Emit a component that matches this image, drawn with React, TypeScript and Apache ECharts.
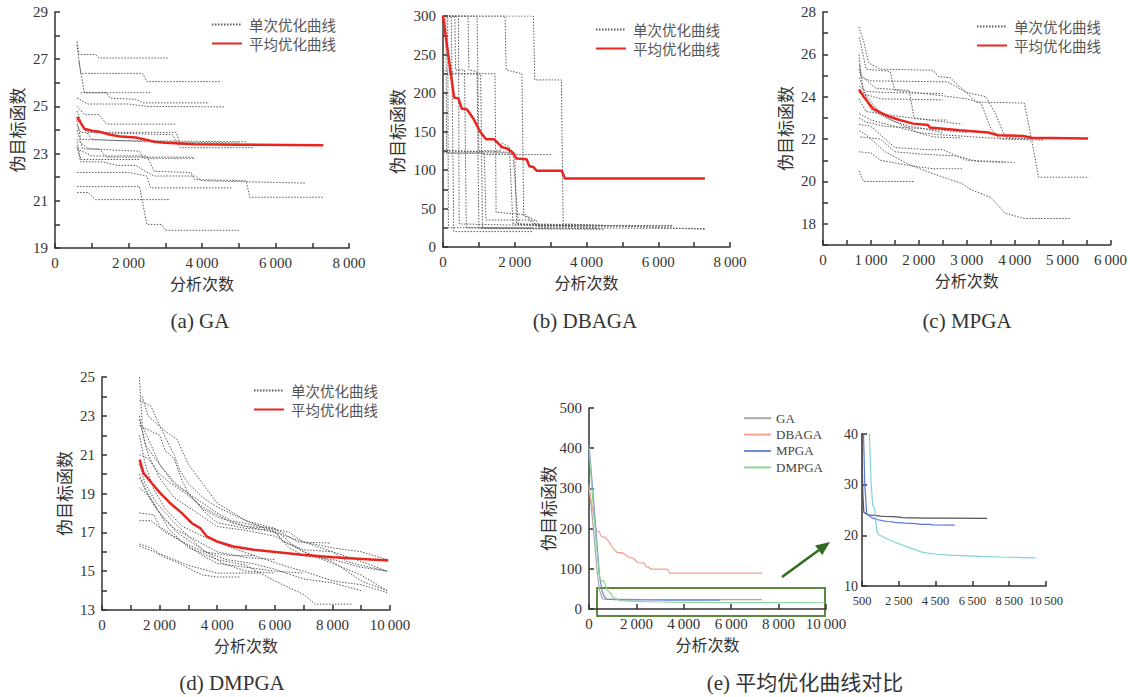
import React, { useEffect, useRef } from "react";
import * as echarts from "echarts";

// ---------------- data ----------------
const gaRuns: number[][][] = [
  [[600,27.75],[650,27.2],[1100,27.2],[1200,27.05],[3070,27.05]],
  [[600,27.6],[700,26.4],[2380,26.4],[2500,26.05],[4500,26.05]],
  [[650,26.9],[800,25.58],[2620,25.58]],
  [[700,25.58],[1400,25.58],[1500,25.35],[2200,25.3],[2400,25.15],[4200,25.15]],
  [[600,25.35],[900,25.1],[2000,25.1],[2500,25.0],[4600,24.98]],
  [[600,25.0],[800,24.65],[1200,24.65],[1400,24.25],[3300,24.25]],
  [[600,24.8],[800,24.0],[1200,23.9],[3300,23.9],[3400,23.4],[5400,23.4]],
  [[600,24.2],[700,23.9],[3200,23.8],[3400,23.25],[5400,23.25]],
  [[600,24.4],[700,23.6],[1800,23.55],[5200,23.5]],
  [[600,24.0],[750,23.2],[1200,23.2],[1400,22.85],[3800,22.85]],
  [[600,23.5],[700,22.75],[2300,22.75]],
  [[600,23.3],[700,22.65],[1300,22.65],[1700,22.5],[2200,22.5],[2400,22.3],[2700,22.05],[3800,22.05],[4000,21.85],[6800,21.75]],
  [[600,23.2],[1000,22.9],[2500,22.9],[2700,22.25],[3700,22.2],[3800,21.9],[5200,21.85],[5300,21.15],[7300,21.15]],
  [[600,22.2],[2000,22.2],[2500,22.05],[2600,21.55],[4800,21.55]],
  [[600,21.6],[2300,21.6],[2500,20.0],[2900,20.0],[3000,19.75],[5000,19.75]],
  [[600,21.35],[900,21.35],[1100,21.05],[3100,21.05]],
  [[600,24.5],[1000,23.6],[2500,23.5],[5000,23.45]],
  [[600,23.6],[900,23.2],[2300,23.1],[2400,22.8],[3800,22.8]],
];
const gaAvg: number[][] = [[600,24.55],[700,24.3],[800,24.05],[1000,23.97],[1200,23.93],[1500,23.8],[1800,23.72],[2200,23.68],[2500,23.58],[2700,23.5],[3000,23.46],[3400,23.43],[3800,23.4],[5000,23.38],[7300,23.35]];

const dbRuns: number[][][] = [
  [[0,300],[130,300],[150,25],[4400,24]],
  [[0,300],[230,300],[250,225],[1050,225],[1100,24],[4500,23]],
  [[0,300],[430,300],[450,30],[2400,28],[6400,28]],
  [[0,300],[700,300],[720,230],[950,228],[1000,25],[3000,24]],
  [[0,300],[1730,300],[1760,230],[2200,225],[2250,40],[2450,38],[2600,27],[6400,27]],
  [[0,300],[2520,300],[2560,217],[3300,217],[3350,30],[7300,23]],
  [[0,225],[1450,225],[1480,45],[2300,42],[2500,30],[4500,28]],
  [[0,125],[1050,124],[1100,120],[3050,120]],
  [[0,122],[1150,122],[1200,35],[2600,35],[2700,25],[7300,24]],
  [[0,125],[2000,123],[2050,30],[3600,28]],
  [[0,300],[80,300],[100,122],[1950,122],[2100,30],[4300,25]],
  [[0,230],[250,228],[300,20],[2500,20]],
  [[0,300],[950,300],[1000,125],[1600,125],[1650,135],[1850,130],[1950,30],[3000,27]],
  [[0,300],[330,300],[350,230],[600,230],[650,25],[2500,25]],
];
const dbAvg: number[][] = [[0,300],[310,194],[430,193],[520,180],[670,178.6],[845,167],[1030,150],[1200,140],[1420,140],[1635,130],[1770,128],[1914,124],[2054,115],[2333,114],[2405,105],[2517,104],[2611,99],[3308,99],[3400,89],[7300,89]];

const mpRuns: number[][][] = [
  [[750,27.3],[850,26.6],[950,25.6],[1200,25.3],[2300,25.25],[2400,24.95],[2650,24.9],[3200,23.75],[4200,23.7],[4300,22.6],[4350,22.0],[4500,20.2],[5550,20.2]],
  [[760,22.4],[900,22.2],[1300,21.4],[1800,20.8],[2250,20.4],[2900,19.9],[3100,19.6],[3500,19.25],[3800,18.5],[4200,18.25],[5150,18.25]],
  [[750,20.5],[850,20.0],[1900,20.0]],
  [[750,21.4],[1000,21.35],[1200,21.0],[1800,20.75],[2300,20.6],[2900,20.6]],
  [[750,22.7],[1000,22.6],[1500,21.6],[2200,21.5],[2500,21.5],[3000,21.0],[4000,20.9]],
  [[760,23.2],[1000,22.9],[1500,22.6],[2000,22.3],[2500,22.2],[3500,22.05],[4600,22.0]],
  [[750,24.2],[1200,23.9],[2500,23.85]],
  [[760,24.5],[900,24.25],[1300,24.2],[2500,24.15]],
  [[750,25.3],[800,24.9],[1000,24.75],[2600,24.7],[3000,24.2],[3400,24.0],[3600,23.2],[3800,22.1],[4300,22.0]],
  [[750,26.0],[800,25.0],[1100,24.4],[1800,24.3],[1900,23.0],[2900,22.7]],
  [[750,23.9],[900,23.3],[1500,23.1],[2200,22.9],[2600,22.9]],
  [[750,23.0],[900,22.8],[1300,22.6],[2000,22.5],[2600,22.4],[3000,22.3]],
  [[760,26.8],[900,25.3],[1400,25.2],[1500,24.3],[2300,24.1],[3000,23.9],[3300,23.7],[3500,22.5],[3700,22.0],[4600,21.95]],
  [[760,25.5],[850,24.2],[1200,23.2],[1600,22.7],[2000,22.3],[2300,22.1],[2900,22.05]],
  [[760,24.9],[900,24.0],[1000,23.4],[1400,22.9],[1800,22.6],[2100,22.5],[2500,22.3]],
  [[780,22.1],[1200,22.0],[1500,21.4],[2000,21.3],[2800,21.2],[3200,20.95],[3800,20.9]],
];
const mpAvg: number[][] = [[752,24.34],[850,24.0],[950,23.7],[1045,23.44],[1200,23.25],[1358,23.08],[1600,22.9],[1880,22.73],[2193,22.66],[2228,22.55],[2854,22.42],[3446,22.31],[3655,22.18],[4177,22.15],[4350,22.06],[5534,22.03]];

const dmRuns: number[][][] = [
  [[1300,25.0],[1400,22.5],[1700,21.5],[2000,20.5],[2500,19.5],[3000,19.0],[3500,18.2],[4000,17.8],[5000,17.3],[6000,17.0],[6500,16.2],[7000,15.8],[8000,15.6],[9000,15.2],[9900,15.0]],
  [[1300,23.8],[1700,23.5],[2000,22.5],[2500,21.0],[2700,20.2],[3000,19.5],[3500,18.8],[4000,18.3],[5000,17.6],[6000,17.2],[6800,16.5],[7900,16.45]],
  [[1300,22.8],[1600,21.0],[2000,19.8],[2500,18.8],[3200,18.1],[4000,17.3],[5000,17.1],[6000,16.8],[7000,16.0],[8000,15.5],[9000,14.5],[9900,14.0]],
  [[1300,22.0],[1500,20.5],[1800,19.2],[2200,18.2],[2800,17.3],[3500,16.8],[4500,16.2],[5500,15.7],[6500,15.2],[7000,15.0],[8000,14.5],[9000,14.3],[9900,13.9]],
  [[1300,20.5],[1500,19.5],[1900,18.5],[2500,17.5],[3000,16.8],[3500,16.1],[4200,15.4],[5000,15.0],[6000,14.9]],
  [[1300,19.8],[1600,19.0],[2000,18.0],[2300,17.2],[3000,16.2],[4000,15.6],[5000,15.3],[6000,14.5],[7000,13.8],[7400,13.3],[8700,13.3]],
  [[1300,16.4],[1700,16.2],[2000,15.9],[2500,15.6],[3000,15.3],[3500,15.1],[4000,14.9],[5500,14.9]],
  [[1300,16.3],[1800,16.0],[2200,15.7],[2700,15.4],[3200,15.0],[3500,14.8],[4000,14.7],[4800,14.7]],
  [[1300,18.0],[1800,17.9],[2000,17.3],[2500,16.8],[3000,16.3],[3500,15.8],[4000,15.4],[5000,15.2],[6000,15.0],[7000,14.9]],
  [[1300,17.6],[1700,17.6],[2200,17.0],[2800,16.5],[3500,16.0],[4500,15.8],[5300,15.8]],
  [[1300,23.0],[1500,21.5],[2000,20.5],[2500,19.6],[3000,19.0],[3600,18.0],[4000,17.5],[5000,17.2],[6000,17.1],[6300,16.5],[7000,16.1],[8000,16.0],[8500,15.5],[9000,15.3],[9900,15.0]],
  [[1300,21.0],[1600,20.8],[2000,20.0],[2400,19.5],[3000,18.9],[3500,18.3],[4000,17.9],[4500,17.5],[5000,17.3],[6000,17.2],[6500,16.5],[7000,16.0],[8000,15.4],[9000,14.8],[9900,14.0]],
  [[1300,19.3],[1600,18.9],[2000,18.0],[2500,17.2],[3000,16.8],[3500,16.4],[4000,16.0],[5000,15.7],[6000,15.6]],
  [[1300,22.5],[2000,22.0],[2200,21.2],[2500,20.8],[2800,19.6],[3000,19.0],[3500,18.5],[4000,18.0],[4500,17.6],[5500,17.3],[6500,17.0],[7000,16.5],[8000,16.2],[9000,16.0],[9900,15.6]],
  [[1300,20.0],[1500,19.2],[1800,18.4],[2100,17.8],[2600,17.0],[3100,16.5],[3600,16.0],[4300,15.6],[5200,15.4],[6000,15.1],[6600,14.8],[7000,14.6],[8000,14.4],[9000,14.0]],
  [[1400,24.0],[1600,23.0],[2200,22.2],[2600,21.8],[3000,20.5],[3500,19.5],[4000,18.5],[5000,17.6],[6000,17.0],[7000,16.5],[8000,16.0],[9000,15.5],[9900,15.0]],
];
const dmAvg: number[][] = [[1305,20.74],[1444,20.05],[1733,19.53],[2022,19.02],[2369,18.5],[2773,17.99],[3120,17.47],[3409,17.22],[3640,16.79],[3987,16.53],[4565,16.27],[5259,16.1],[6184,15.96],[6935,15.84],[8033,15.72],[9189,15.62],[9940,15.55]];

// heads of the averaged curves in the comparison panel (e)
const eGAHead: number[][] = [[0,310],[200,190],[350,90],[450,45],[550,28]];
const eMPHead: number[][] = [[0,410],[150,300],[300,190],[450,80],[550,45],[650,30]];
const eDMHead: number[][] = [[0,400],[150,280],[300,170],[420,90],[480,72],[620,70],[800,45],[900,40],[1000,30],[1080,26],[1200,25]];

const legendRun = "单次优化曲线";
const legendAvg = "平均优化曲线";
const compareNames = ["GA", "DBAGA", "MPGA", "DMPGA"];
const insetXTicks = [500, 2500, 4500, 6500, 8500, 10500];
const captions = ["(a) GA", "(b) DBAGA", "(c) MPGA", "(d) DMPGA", "(e) 平均优化曲线对比"];

// ---------------- styles ----------------
const SERIF = "'Liberation Serif', 'Times New Roman', serif";
const CJK = "'Noto Sans CJK SC', sans-serif";
const AX = "#333";
const THIN = "\u2009";
const fmt = (v: number) => {
  const s = String(v);
  return v >= 1000 ? s.slice(0, s.length - 3) + THIN + s.slice(-3) : s;
};

function xAxis(gi: number, min: number, max: number, interval: number, labelEvery: number, extra: any = {}) {
  return {
    type: "value", gridIndex: gi, min, max, interval,
    name: "分析次数", nameLocation: "middle", nameGap: 27,
    nameTextStyle: { fontFamily: CJK, fontSize: 16, color: AX },
    axisLine: { show: true, lineStyle: { color: AX, width: 1.5 } },
    axisTick: { show: true, inside: true, length: 5, lineStyle: { color: AX, width: 1.5 } },
    axisLabel: {
      color: AX, fontFamily: SERIF, fontSize: 15, margin: 7,
      formatter: (v: number) => (v % labelEvery === 0 ? fmt(v) : ""),
    },
    splitLine: { show: false },
    ...extra,
  };
}
function yAxis(gi: number, min: number, max: number, interval: number, labelFn: (v: number) => boolean, nameGap: number, extra: any = {}) {
  return {
    type: "value", gridIndex: gi, min, max, interval,
    name: "伪目标函数", nameLocation: "middle", nameGap, nameRotate: 90,
    nameTextStyle: { fontFamily: CJK, fontSize: 17, color: AX },
    axisLine: { show: true, lineStyle: { color: AX, width: 1.5 } },
    axisTick: { show: true, inside: true, length: 5, lineStyle: { color: AX, width: 1.5 } },
    axisLabel: {
      color: AX, fontFamily: SERIF, fontSize: 15, margin: 7,
      formatter: (v: number) => (labelFn(v) ? String(v) : ""),
    },
    splitLine: { show: false },
    ...extra,
  };
}

const runStyle = { color: "#5a5a5a", width: 1, type: [1.5, 1.5] };
const avgStyle = { color: "#e8251f", width: 2.5 };

function runSeries(runs: number[][][], idx: number) {
  const out: any[] = runs.map((r) => ({
    type: "line", name: legendRun, xAxisIndex: idx, yAxisIndex: idx, data: r,
    symbol: "none", lineStyle: runStyle, itemStyle: { color: "#5a5a5a" }, silent: true, z: 2,
  }));
  return out;
}
function avgSeries(data: number[][], idx: number) {
  return {
    type: "line", name: legendAvg, xAxisIndex: idx, yAxisIndex: idx, data,
    symbol: "none", lineStyle: avgStyle, itemStyle: { color: "#e8251f" }, silent: true, z: 3,
  };
}
function legendFor(left: number, top: number) {
  return {
    left, top, padding: 0, orient: "vertical", itemWidth: 30, itemHeight: 19, itemGap: 0,
    selectedMode: false, data: [legendRun, legendAvg],
    itemStyle: { opacity: 0 },
    textStyle: { fontFamily: CJK, fontSize: 14.5, color: "#555", lineHeight: 19, padding: [0, 0, 0, 2] },
  };
}

export default function App() {
  const ref = useRef<HTMLDivElement>(null);
  useEffect(() => {
    if (!ref.current) return;
    const chart = echarts.init(ref.current, null, { renderer: "svg" });
    const eColors = ["#a9a9a9", "#f5a08c", "#6a8bd6", "#8fd39a"];
    const eData = [eGAHead.concat(gaAvg), dbAvg, eMPHead.concat(mpAvg), eDMHead.concat(dmAvg)];
    const insetColors = ["#555555", "#5577dd", "#7fd4dc"];
    const insetData = [eGAHead.concat(gaAvg), eMPHead.concat(mpAvg), eDMHead.concat(dmAvg)];

    const series: any[] = [
      ...runSeries(gaRuns, 0), avgSeries(gaAvg, 0),
      ...runSeries(dbRuns, 1), avgSeries(dbAvg, 1),
      ...runSeries(mpRuns, 2), avgSeries(mpAvg, 2),
      ...runSeries(dmRuns, 3), avgSeries(dmAvg, 3),
      ...compareNames.map((n, i) => ({
        type: "line", name: n, xAxisIndex: 4, yAxisIndex: 4, data: eData[i],
        symbol: "none", lineStyle: { color: eColors[i], width: 1.2 }, itemStyle: { color: eColors[i] }, silent: true,
      })),
      ...insetData.map((d, i) => ({
        type: "line", name: "inset-" + i, xAxisIndex: 5, yAxisIndex: 5, data: d,
        symbol: "none", lineStyle: { color: insetColors[i], width: 1.2 }, silent: true, clip: true,
      })),
    ];

    // arrow geometry (annotation)
    const tip = [830, 542], tail = [782, 577];
    const dx = tip[0] - tail[0], dy = tip[1] - tail[1];
    const L = Math.hypot(dx, dy), ux = dx / L, uy = dy / L, nx = -uy, ny = ux;
    const bx = tip[0] - 14 * ux, by = tip[1] - 14 * uy;

    const option: any = {
      animation: false,
      grid: [
        { left: 55, top: 12, width: 294, height: 236 },
        { left: 443, top: 16, width: 287, height: 231 },
        { left: 823, top: 12, width: 288, height: 233 },
        { left: 102, top: 377, width: 288, height: 233 },
        { left: 589, top: 408, width: 237, height: 201 },
        { left: 862, top: 434, width: 184, height: 152 },
      ],
      xAxis: [
        xAxis(0, 0, 8000, 1000, 2000),
        xAxis(1, 0, 8000, 1000, 2000),
        xAxis(2, 0, 6000, 500, 1000),
        xAxis(3, 0, 10000, 1000, 2000),
        xAxis(4, 0, 10000, 2000, 2000),
        {
          ...xAxis(5, 500, 10500, 2000, 1),
          name: "", interval: undefined,
          axisLabel: { color: AX, fontFamily: SERIF, fontSize: 12.5, margin: 8, customValues: insetXTicks, formatter: (v: number) => fmt(v) },
          axisTick: { show: true, inside: true, length: 5, customValues: insetXTicks, lineStyle: { color: AX, width: 1.5 } },
        },
      ],
      yAxis: [
        yAxis(0, 19, 29, 1, (v) => v % 2 === 1, 30),
        yAxis(1, 0, 300, 25, (v) => v % 50 === 0, 38),
        yAxis(2, 17, 28, 1, (v) => v % 2 === 0, 30),
        yAxis(3, 13, 25, 1, (v) => v % 2 === 1, 30),
        yAxis(4, 0, 500, 100, () => true, 33),
        { ...yAxis(5, 10, 40, 10, () => true, 30), name: "", axisLabel: { color: AX, fontFamily: SERIF, fontSize: 14, margin: 4 } },
      ],
      legend: [
        legendFor(211, 15),
        legendFor(595, 20),
        legendFor(976, 17),
        legendFor(253, 381),
        {
          left: 743, top: 410, padding: 0, orient: "vertical", itemWidth: 27, itemHeight: 16.4, itemGap: 0,
          selectedMode: false, data: compareNames, itemStyle: { opacity: 0 },
          textStyle: { fontFamily: SERIF, fontSize: 13, color: "#444", lineHeight: 16.4 },
        },
      ],
      graphic: [
        ...captions.map((c, i) => ({
          type: "text",
          x: [200, 585, 967, 232, 805][i],
          y: [321, 321, 321, 683, 683][i],
          style: { text: c, font: `21px ${SERIF}, 'Noto Sans CJK SC'`, fill: "#333", align: "center", verticalAlign: "middle" },
          silent: true,
        })),
        { type: "rect", shape: { x: 597, y: 588, width: 228, height: 28 }, style: { fill: "none", stroke: "#5b8a3c", lineWidth: 2 }, silent: true },
        { type: "line", shape: { x1: tail[0], y1: tail[1], x2: bx, y2: by }, style: { stroke: "#2f6a1f", lineWidth: 2.5 }, silent: true },
        {
          type: "polygon",
          shape: { points: [[tip[0], tip[1]], [bx + 6 * nx, by + 6 * ny], [bx - 6 * nx, by - 6 * ny]] },
          style: { fill: "#2f6a1f" }, silent: true,
        },
      ],
      series,
    };
    chart.setOption(option);
    return () => chart.dispose();
  }, []);
  return <div ref={ref} style={{ position: "absolute", left: 0, top: 0, width: 1130, height: 697, background: "#fff" }} />;
}
